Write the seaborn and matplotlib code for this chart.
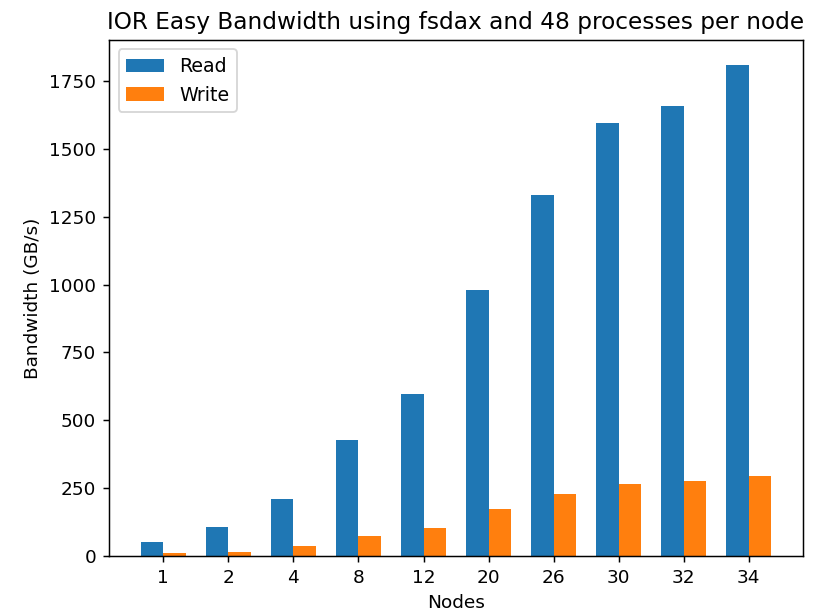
import matplotlib
matplotlib.use("Agg")
import matplotlib.pyplot as plt
import seaborn as sns
import pandas as pd

nodes = ["1", "2", "4", "8", "12", "20", "26", "30", "32", "34"]
read_bw = [53, 108, 211, 427, 596, 982, 1329, 1597, 1657, 1811]
write_bw = [10, 16, 36, 72, 103, 175, 227, 264, 278, 294]

df = pd.DataFrame({
    "Nodes": nodes * 2,
    "Bandwidth": read_bw + write_bw,
    "Type": ["Read"] * len(nodes) + ["Write"] * len(nodes),
})

plt.rcdefaults()
plt.rcParams['font.family'] = ['DejaVu Sans']

DPI = 133
fig = plt.figure(figsize=(826 / DPI, 615 / DPI), dpi=DPI)
ax = fig.add_axes([0.1320, 0.0959, 0.8402, 0.8391])
sns.barplot(data=df, x="Nodes", y="Bandwidth", hue="Type", order=nodes,
            palette=["#1f77b4", "#ff7f0e"], saturation=1, width=0.7, gap=0,
            linewidth=0, ax=ax, errorbar=None)
ax.set_xlim(-0.835, 9.835)
ax.set_ylim(0, 1811 * 1.05)
ax.set_xlabel("Nodes")
ax.set_ylabel("Bandwidth (GB/s)")
ax.set_title("IOR Easy Bandwidth using fsdax and 48 processes per node", fontsize=12.6)
ax.legend(loc="upper left", title=None, fontsize=10.3)
fig.savefig("out.png", dpi=DPI)
